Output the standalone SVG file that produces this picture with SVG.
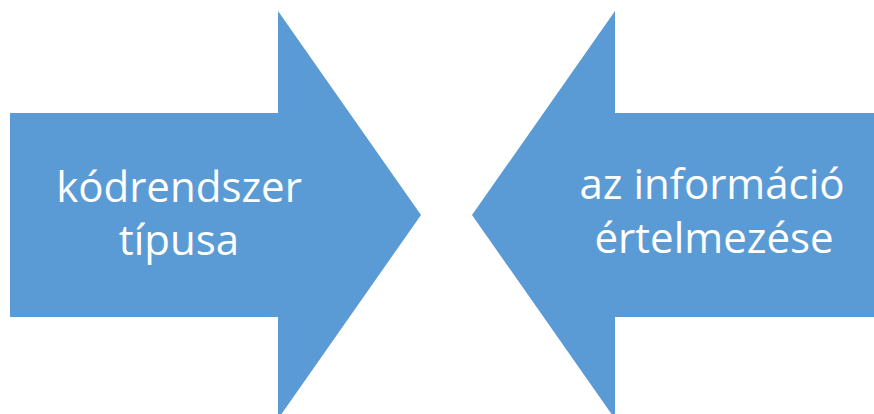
<svg xmlns="http://www.w3.org/2000/svg" width="874" height="414" viewBox="0 0 874 414">
<style>
.arrow{fill:#5B9BD5;stroke:none}
.lbl{font-family:"Open Sans","Liberation Sans",sans-serif;font-size:42px;fill:#FFFFFF;text-anchor:middle}
</style>
<rect width="874" height="414" fill="#FFFFFF"/>
<g id="node-left">
<polygon class="arrow" points="10,113 278,113 278,11 421,215 278,419 278,317 10,317"/>
<text class="lbl" x="179" y="202">kódrendszer</text>
<text class="lbl" x="179" y="255">típusa</text>
</g>
<g id="node-right">
<polygon class="arrow" points="874,113 615,113 615,11 472,215 615,419 615,317 874,317"/>
<text class="lbl" x="712" y="199">az információ</text>
<text class="lbl" x="714" y="253">értelmezése</text>
</g>
<g id="connectors"></g>
</svg>
